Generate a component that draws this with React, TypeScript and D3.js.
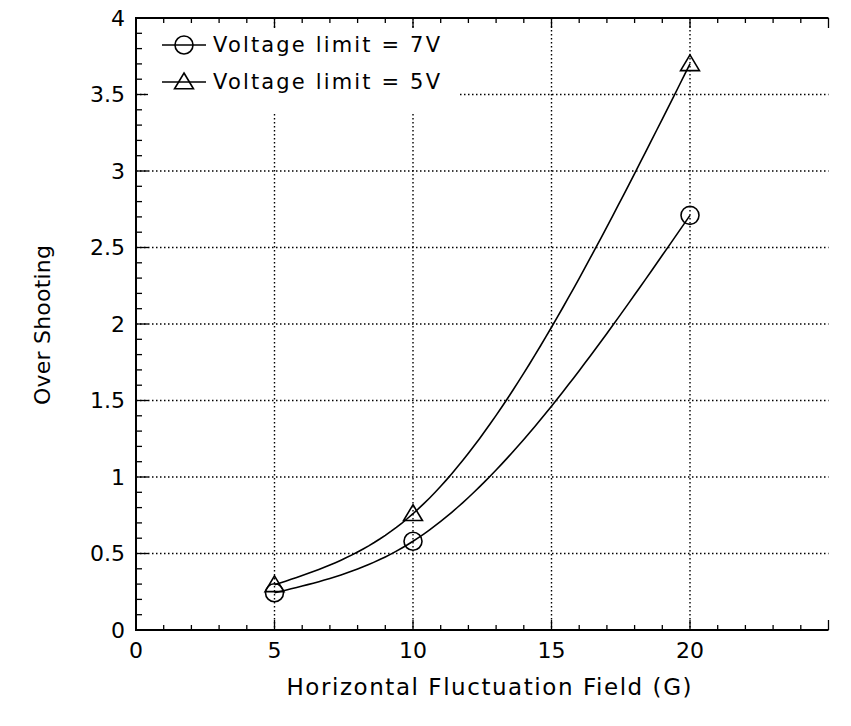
import React from "react";
import * as d3 from "d3";

const xTickValues = [0, 5, 10, 15, 20];
const xTickLabels = ["0", "5", "10", "15", "20"];
const yTickValues = [0, 0.5, 1, 1.5, 2, 2.5, 3, 3.5, 4];
const yTickLabels = ["0", "0.5", "1", "1.5", "2", "2.5", "3", "3.5", "4"];
const fieldG = [5, 10, 20];
const overshoot7V = [0.243, 0.58, 2.71];
const overshoot5V = [0.295, 0.76, 3.7];
const seriesNames = ["Voltage limit = 7V", "Voltage limit = 5V"];

const W = 851;
const H = 726;
const FONT = "DejaVu Sans, sans-serif";

// natural cubic spline through the data points (parametrised by x)
function naturalSpline(xs: number[], ys: number[]) {
  const n = xs.length;
  const h = d3.range(n - 1).map((i) => xs[i + 1] - xs[i]);
  const M = new Array(n).fill(0);
  if (n === 3) {
    M[1] = (6 * ((ys[2] - ys[1]) / h[1] - (ys[1] - ys[0]) / h[0])) / (2 * (h[0] + h[1]));
  }
  return (t: number) => {
    let i = 0;
    while (i < n - 2 && t > xs[i + 1]) i++;
    const hi = h[i];
    const a = xs[i + 1] - t;
    const b = t - xs[i];
    return (
      (M[i] * a * a * a) / (6 * hi) +
      (M[i + 1] * b * b * b) / (6 * hi) +
      (ys[i] / hi - (M[i] * hi) / 6) * a +
      (ys[i + 1] / hi - (M[i + 1] * hi) / 6) * b
    );
  };
}

export default function App() {
  const x = d3.scaleLinear().domain([0, 20]).range([136, 690]);
  const y = d3.scaleLinear().domain([0, 4]).range([630, 18]);
  const left = x(0);
  const right = x(25);
  const top = y(4);
  const bottom = y(0);

  const line = d3
    .line<[number, number]>()
    .x((d) => x(d[0]))
    .y((d) => y(d[1]));

  const samples = d3.range(fieldG[0], fieldG[fieldG.length - 1] + 0.001, 0.2);
  const path = (vals: number[]) => {
    const f = naturalSpline(fieldG, vals);
    return line(samples.map((t) => [t, f(t)] as [number, number])) || "";
  };

  const yMinor = d3.range(0, 41).map((i) => i / 10);
  const xMinor = d3.range(0, 26);

  const tri = (cx: number, cy: number) => {
    const s = 9;
    return `M${cx},${cy - s}L${cx + s * 1.05},${cy + s * 0.75}L${cx - s * 1.05},${cy + s * 0.75}Z`;
  };

  return (
    <svg
      width={W}
      height={H}
      style={{ position: "absolute", left: 0, top: 0, background: "#fff" }}
      fontFamily={FONT}
    >
      <rect x={0} y={0} width={W} height={H} fill="#fff" />
      {/* grid */}
      <g stroke="#000" strokeWidth={1.4} strokeDasharray="1.5 2.5">
        {xTickValues.slice(1).map((v) => (
          <line key={"gx" + v} x1={x(v)} x2={x(v)} y1={top} y2={bottom} />
        ))}
        {yTickValues.slice(1, -1).map((v) => (
          <line key={"gy" + v} x1={left} x2={right} y1={y(v)} y2={y(v)} />
        ))}
      </g>
      {/* legend background */}
      <rect x={148} y={28} width={312} height={84} fill="#fff" />
      {/* axes */}
      <g stroke="#000" strokeWidth={2}>
        <line x1={left} x2={left} y1={top - 1} y2={bottom + 1} />
        <line x1={left} x2={right} y1={bottom} y2={bottom} />
        <line x1={left} x2={right} y1={top} y2={top} />
      </g>
      <g stroke="#000" strokeWidth={1.3}>
        {yMinor.map((v, i) => (
          <line key={"ym" + i} x1={left} x2={left + (i % 5 === 0 ? 12 : 6)} y1={y(v)} y2={y(v)} />
        ))}
        {xMinor.map((v) => (
          <line key={"xb" + v} x1={x(v)} x2={x(v)} y1={bottom} y2={bottom - (v % 5 === 0 ? 10 : 5)} />
        ))}
        {xMinor.map((v) => (
          <line key={"xt" + v} x1={x(v)} x2={x(v)} y1={top} y2={top + (v % 5 === 0 ? 10 : 5)} />
        ))}
      </g>
      {/* tick labels */}
      <g fontSize={22} fill="#000">
        {yTickValues.map((v, i) => (
          <text key={"yl" + v} x={left - 11} y={y(v)} textAnchor="end" dominantBaseline="central">
            {yTickLabels[i]}
          </text>
        ))}
        {xTickValues.map((v, i) => (
          <text key={"xl" + v} x={x(v)} y={658} textAnchor="middle">
            {xTickLabels[i]}
          </text>
        ))}
      </g>
      {/* axis titles */}
      <text x={489} y={695} textAnchor="middle" fontSize={23} textLength={405} lengthAdjust="spacing">
        Horizontal Fluctuation Field (G)
      </text>
      <text
        transform={`translate(50,325) rotate(-90)`}
        textAnchor="middle"
        fontSize={22}
        textLength={160}
        lengthAdjust="spacing"
      >
        Over Shooting
      </text>
      {/* curves */}
      <g fill="none" stroke="#000" strokeWidth={1.6}>
        <path d={path(overshoot7V)} />
        <path d={path(overshoot5V)} />
      </g>
      {/* markers */}
      <g fill="none" stroke="#000" strokeWidth={1.6}>
        {overshoot7V.map((v, i) => (
          <circle key={"c" + i} cx={x(fieldG[i])} cy={y(v)} r={9} />
        ))}
        {overshoot5V.map((v, i) => (
          <path key={"t" + i} d={tri(x(fieldG[i]), y(v))} />
        ))}
      </g>
      {/* legend */}
      <g stroke="#000" strokeWidth={1.6} fill="none">
        <line x1={162} x2={206} y1={45} y2={45} />
        <circle cx={184} cy={45} r={9} />
        <line x1={162} x2={206} y1={82} y2={82} />
        <path d={tri(184, 82)} />
      </g>
      <g fontSize={21} fill="#000">
        <text x={213} y={45} dominantBaseline="central" textLength={227} lengthAdjust="spacing">
          {seriesNames[0]}
        </text>
        <text x={213} y={82} dominantBaseline="central" textLength={227} lengthAdjust="spacing">
          {seriesNames[1]}
        </text>
      </g>
    </svg>
  );
}
